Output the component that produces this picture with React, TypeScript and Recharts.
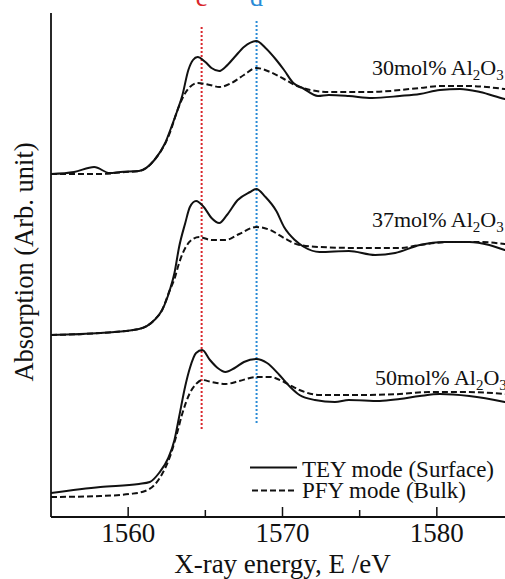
import React from "react";
import { LineChart, Line, XAxis, YAxis, ReferenceLine, ReferenceDot, Legend } from "recharts";

const SERIF = '"Liberation Serif", "Times New Roman", Times, serif';
const INK = "#111";
const txt = (size: number, color: string = INK): React.CSSProperties => ({ fontFamily: SERIF, fontSize: size, fill: color });

const xTicks = [1560, 1565, 1570, 1575, 1580, 1585];

// 30 mol% Al2O3 (top pair)
const e30Tey = [1555.0, 1556.5, 1557.8, 1558.8, 1559.5, 1560.7, 1561.7, 1562.4, 1562.8, 1563.2, 1563.5, 1563.9, 1564.2, 1564.5, 1565.0, 1565.4, 1565.9, 1566.3, 1566.9, 1567.5, 1568.3, 1568.9, 1569.6, 1570.1, 1570.7, 1571.3, 1572.3, 1573.0, 1574.3, 1575.8, 1577.6, 1578.9, 1580.2, 1581.5, 1582.8, 1584.4, 1585];
const i30Tey = [343, 345, 350, 344, 345, 346, 357, 374, 390, 407, 421, 447, 457, 460, 455, 449, 446, 450, 460, 470, 476, 469, 457, 447, 434, 429, 421, 422, 421, 419, 421, 423, 427, 428, 425, 418, 416];
const e30Pfy = [1555.0, 1558.2, 1559.8, 1560.7, 1561.7, 1562.7, 1563.2, 1563.7, 1564.0, 1564.5, 1565.3, 1565.9, 1566.7, 1567.5, 1568.3, 1569.2, 1570.1, 1570.8, 1571.8, 1573.0, 1575.6, 1578.9, 1580.2, 1582.1, 1584.4, 1585];
const i30Pfy = [343, 343, 345, 346, 357, 384, 407, 424, 430, 434, 432, 430, 434, 442, 449, 445, 438, 432, 427, 425, 425, 429, 431, 431, 428, 427];

// 37 mol% Al2O3 (middle pair)
const e37Tey = [1555.0, 1558.2, 1560.7, 1561.7, 1562.2, 1562.7, 1563.0, 1563.3, 1563.7, 1564.0, 1564.4, 1564.9, 1565.4, 1565.9, 1566.4, 1567.1, 1567.9, 1568.3, 1568.9, 1569.6, 1570.1, 1570.8, 1571.4, 1572.4, 1574.3, 1576.0, 1577.3, 1578.9, 1580.5, 1582.1, 1583.4, 1584.4, 1585];
const i37Tey = [182, 184, 188, 197, 207, 227, 244, 270, 294, 310, 316, 310, 299, 294, 302, 317, 325, 328, 320, 306, 290, 277, 270, 265, 266, 262, 264, 272, 275, 275, 272, 267, 265];
const e37Pfy = [1555.0, 1558.2, 1560.7, 1561.7, 1562.2, 1562.7, 1563.0, 1563.3, 1563.7, 1564.1, 1564.6, 1565.4, 1566.3, 1567.2, 1568.3, 1569.2, 1570.1, 1571.1, 1572.4, 1575.0, 1577.6, 1578.9, 1580.8, 1582.8, 1584.4, 1585];
const i37Pfy = [182, 184, 188, 197, 207, 227, 238, 254, 269, 277, 280, 277, 277, 283, 290, 287, 279, 272, 270, 269, 269, 272, 275, 275, 273, 272];

// 50 mol% Al2O3 (bottom pair)
const e50Tey = [1555.0, 1558.2, 1560.7, 1561.4, 1562.0, 1562.6, 1563.0, 1563.3, 1563.7, 1564.0, 1564.4, 1564.8, 1565.3, 1565.8, 1566.3, 1566.9, 1567.5, 1568.3, 1569.0, 1569.8, 1570.5, 1571.1, 1572.1, 1573.4, 1574.3, 1576.3, 1577.6, 1578.9, 1580.2, 1582.1, 1584.4, 1585];
const i50Tey = [24, 30, 33, 35, 44, 59, 77, 100, 131, 149, 164, 167, 157, 149, 145, 149, 155, 158, 154, 142, 130, 122, 117, 115, 117, 116, 118, 121, 123, 121, 115, 113];
const e50Pfy = [1555.0, 1558.2, 1560.1, 1561.1, 1561.7, 1562.2, 1562.7, 1563.1, 1563.5, 1564.0, 1564.4, 1564.8, 1565.4, 1566.3, 1567.2, 1568.3, 1569.2, 1570.1, 1571.1, 1572.4, 1575.0, 1577.6, 1579.5, 1581.5, 1584.4, 1585];
const i50Pfy = [20, 21, 23, 26, 32, 43, 60, 80, 103, 124, 133, 137, 135, 133, 136, 140, 140, 135, 127, 122, 122, 123, 125, 125, 123, 122];

// sample labels: name, energy where text starts, baseline level
const sampleNames = ["30mol% Al", "37mol% Al", "50mol% Al"];
const sampleE = [1575.8, 1575.8, 1576.0];
const sampleY = [442, 290, 132];

// peak markers c / d
const peakNames = ["c", "d"];
const peakE = [1564.76, 1568.32];
const peakLow = [88, 94];
const peakHigh = [492, 498];
const peakColors = ["#d9262c", "#2a8bd6"];

const zip = (e: number[], v: number[]) => e.map((x, i) => ({ e: x, v: v[i] }));

const series = [
  { data: zip(e30Tey, i30Tey), dash: undefined },
  { data: zip(e30Pfy, i30Pfy), dash: "6 3" },
  { data: zip(e37Tey, i37Tey), dash: undefined },
  { data: zip(e37Pfy, i37Pfy), dash: "6 3" },
  { data: zip(e50Tey, i50Tey), dash: undefined },
  { data: zip(e50Pfy, i50Pfy), dash: "6 3" },
];

const BottomTick = (p: any) => {
  const major = p.payload.value % 10 === 0;
  return (
    <g>
      <line x1={p.x} x2={p.x} y1={p.y} y2={p.y - (major ? 10 : 7)} stroke={INK} strokeWidth={1.5} />
      {major && (
        <text x={p.x} y={p.y + 25} textAnchor="middle" style={txt(27)}>
          {p.payload.value}
        </text>
      )}
    </g>
  );
};

const TopTick = (p: any) => (
  <line x1={p.x} x2={p.x} y1={p.y} y2={p.y + 10} stroke={INK} strokeWidth={1.5} />
);

const LegendBox = () => (
  <svg width={260} height={55}>
    <line x1={2} x2={49} y1={15.5} y2={15.5} stroke={INK} strokeWidth={2} />
    <text x={54} y={24.5} style={txt(23)}>TEY mode (Surface)</text>
    <line x1={4} x2={49} y1={38.5} y2={38.5} stroke={INK} strokeWidth={2} strokeDasharray="6 3" />
    <text x={54} y={46} style={txt(23)}>PFY mode (Bulk)</text>
  </svg>
);

export default function App() {
  return (
    <div style={{ position: "absolute", left: 0, top: 0, width: 505, height: 579, overflow: "hidden", background: "#fff" }}>
      <LineChart width={530} height={579} margin={{ top: 13, right: 16, bottom: 0, left: 0 }}>
        <XAxis
          dataKey="e"
          type="number"
          domain={[1555, 1585]}
          allowDataOverflow
          ticks={xTicks}
          height={62}
          tickSize={0}
          tickMargin={0}
          tickLine={false}
          tick={BottomTick}
          axisLine={{ stroke: INK, strokeWidth: 1.8 }}
          label={(lp: any) => (
            <text x={lp.viewBox.x + lp.viewBox.width / 2} y={lp.viewBox.y + 56} textAnchor="middle" style={txt(27)}>
              X-ray energy, E /eV
            </text>
          )}
        />
        <XAxis
          xAxisId="top"
          orientation="top"
          dataKey="e"
          type="number"
          domain={[1555, 1585]}
          allowDataOverflow
          ticks={xTicks}
          height={0}
          tickSize={0}
          tickMargin={0}
          tickLine={false}
          tick={TopTick}
          axisLine={{ stroke: INK, strokeWidth: 1.8 }}
        />
        <YAxis
          type="number"
          domain={[0, 504]}
          allowDataOverflow
          width={51}
          tick={false}
          tickLine={false}
          axisLine={{ stroke: INK, strokeWidth: 1.8 }}
          label={(lp: any) => {
            const cx = 33;
            const cy = lp.viewBox.y + lp.viewBox.height / 2 - 3;
            return (
              <text x={cx} y={cy} transform={`rotate(-90, ${cx}, ${cy})`} textAnchor="middle" style={txt(26.5)}>
                Absorption (Arb. unit)
              </text>
            );
          }}
        />
        {peakNames.map((n, i) => (
          <ReferenceLine
            key={n}
            segment={[
              { x: peakE[i], y: peakLow[i] },
              { x: peakE[i], y: peakHigh[i] },
            ]}
            stroke={peakColors[i]}
            strokeWidth={2}
            strokeDasharray="2 2"
            label={(lp: any) => (
              <text x={lp.viewBox.x} y={6} textAnchor="middle" style={txt(26, peakColors[i])}>
                {n}
              </text>
            )}
          />
        ))}
        {series.map((s, i) => (
          <Line
            key={i}
            data={s.data}
            dataKey="v"
            type="monotone"
            stroke={INK}
            strokeWidth={2}
            strokeDasharray={s.dash}
            dot={false}
            activeDot={false}
            isAnimationActive={false}
            legendType="none"
          />
        ))}
        {sampleNames.map((n, i) => (
          <ReferenceDot
            key={n}
            x={sampleE[i]}
            y={sampleY[i]}
            r={0}
            shape={(sp: any) => (
              <text x={sp.cx} y={sp.cy} style={txt(22)}>
                <tspan>{n}</tspan>
                <tspan dy={5} style={{ fontSize: 15 }}>2</tspan>
                <tspan dy={-5}>O</tspan>
                <tspan dy={5} style={{ fontSize: 15 }}>3</tspan>
              </text>
            )}
          />
        ))}
        <Legend
          layout="horizontal"
          verticalAlign="middle"
          align="center"
          content={() => <LegendBox />}
          wrapperStyle={{ position: "absolute", left: 248, top: 452, width: 260, height: 55 }}
        />
      </LineChart>
    </div>
  );
}
